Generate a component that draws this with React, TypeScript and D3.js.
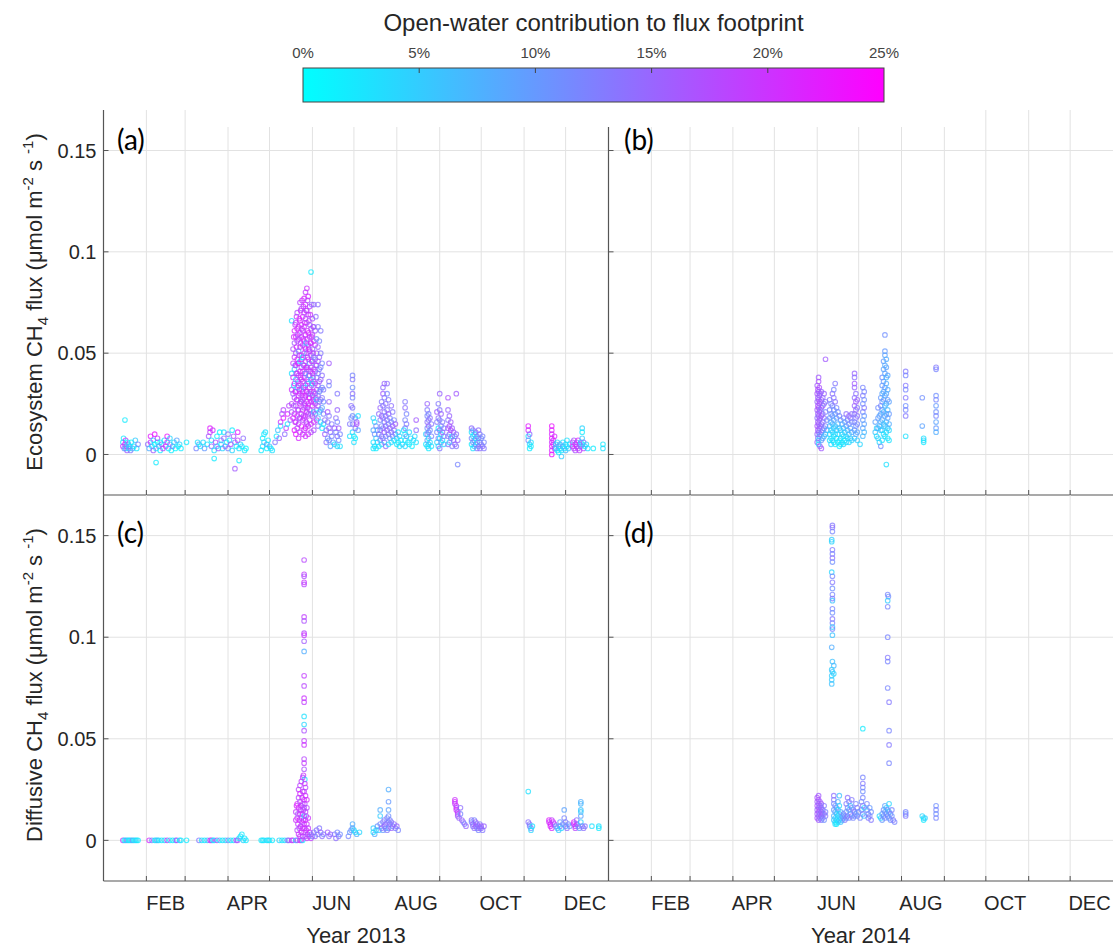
import React from 'react';
import * as d3 from 'd3';

// [day of year (0 = 1 Jan), CH4 flux, open-water share of footprint in %]
type Pt = [number, number, number];

const monthNames = ['FEB', 'APR', 'JUN', 'AUG', 'OCT', 'DEC'];
const monthIndex = [1, 3, 5, 7, 9, 11];
const yTicks = [0, 0.05, 0.1, 0.15];
const yTickLabels = ['0', '0.05', '0.1', '0.15'];
const barTicks = [0, 5, 10, 15, 20, 25];
const years = [2013, 2014];

const eco2013: Pt[] = [
  [14,0.006,3],[14,0.004,20],[14.5,0.008,2],[15,0.003,12],[15.5,0.017,2],[15.5,0.005,22],[16,0.007,21],[16,0.003,4],
  [16.5,0.004,14],[17,0.002,16],[17.5,0.006,2],[18,0.005,10],[18.5,0.003,3],[19,0.004,6],[19.5,0.002,13],[20,0.006,1],
  [21,0.003,8],[22,0.004,3],[23,0.007,5],[24,0.003,2],[25,0.005,12],
  [32,0.005,14],[33,0.003,8],[34,0.009,22],[34,0.006,20],[35,0.004,2],[36,0.007,3],[36,0.002,16],[37,0.010,23],[37,0.005,1],
  [38,0.003,4],[38,-0.004,2],[39,0.006,2],[39,0.008,19],[40,0.004,10],[41,0.002,2],[41,0.006,1],[42,0.005,12],[43,0.003,18],
  [44,0.007,3],[45,0.004,20],[46,0.009,23],[46,0.006,21],[47,0.003,2],[48,0.008,4],[48,0.005,6],[49,0.002,2],[50,0.004,15],
  [51,0.006,3],[52,0.003,1],[53,0.007,9],[54,0.004,2],[55,0.005,4],[56,0.003,2],[60,0.006,2],
  [67,0.003,12],[68,0.006,3],[69,0.005,8],[70,0.004,2],[72,0.006,4],[73,0.003,10],[75,0.005,3],[76,0.009,16],[77,0.013,22],
  [77,0.011,19],[78,0.007,2],[78,0.004,14],[79,0.012,20],[80,0.002,3],[80,-0.002,2],[81,0.006,18],[82,0.009,2],[82,0.004,4],
  [83,0.003,15],[84,0.011,1],[85,0.007,13],[85,0.005,2],[86,0.003,4],[87,0.011,3],[87,0.008,14],[88,0.004,16],[89,0.006,2],
  [90,0.010,13],[90,0.003,12],[91,0.007,2],[92,0.005,18],[93,0.012,2],[93,0.002,4],[94,0.009,16],[95,-0.007,16],[95,0.006,12],
  [96,0.004,2],[97,0.011,22],[97,0.007,19],[98,-0.003,2],[98,0.003,3],[99,0.005,5],[100,0.004,2],[101,0.008,14],[102,0.002,3],[103,0.003,1],
  [114,0.002,2],[115,0.004,3],[115,0.008,2],[116,0.010,2],[116,0.006,4],[117,0.011,3],[118,0.005,10],[118,0.003,2],[119,0.007,2],
  [120,0.004,6],[121,0.003,2],[122,0.002,3],
  [124,0.006,13],[125,0.009,2],[126,0.012,6],[127,0.008,16],[128,0.014,3],[128,0.016,20],[129,0.020,16],[130,0.018,22],
  [130,0.022,18],[131,0.010,14],[132,0.013,19],[133,0.020,21],[133,0.015,2],[134,0.024,18],[135,0.017,15],
  [136,0.025,18],[136,0.032,20],[136,0.040,3],[136,0.021,16],[136,0.066,3],
  [137,0.045,19],[137,0.052,17],[137,0.038,21],[137,0.030,15],[137,0.018,22],[137.5,0.058,20],[137.5,0.034,4],[137.5,0.024,18],
  [138,0.061,21],[138,0.055,16],[138,0.048,19],[138,0.042,6],[138,0.035,22],[138,0.028,17],[138,0.020,20],[138,0.012,23],
  [138.5,0.064,18],[138.5,0.044,12],[138.5,0.031,20],[138.5,0.016,21],
  [139,0.065,20],[139,0.058,22],[139,0.050,17],[139,0.044,19],[139,0.037,3],[139,0.031,21],[139,0.024,16],[139,0.016,19],[139,0.010,22],
  [139.5,0.068,19],[139.5,0.053,21],[139.5,0.040,15],[139.5,0.027,20],
  [140,0.070,17],[140,0.062,21],[140,0.056,18],[140,0.047,22],[140,0.040,20],[140,0.033,5],[140,0.027,19],[140,0.019,21],[140,0.013,17],
  [140.5,0.059,16],[140.5,0.045,21],[140.5,0.036,18],[140.5,0.022,22],
  [141,0.063,20],[141,0.057,19],[141,0.051,11],[141,0.045,21],[141,0.039,18],[141,0.034,22],[141,0.029,20],[141,0.022,16],[141,0.015,19],[141,0.008,21],
  [141.5,0.067,22],[141.5,0.049,17],[141.5,0.032,20],[141.5,0.018,15],
  [142,0.075,18],[142,0.066,20],[142,0.060,22],[142,0.053,19],[142,0.046,4],[142,0.041,21],[142,0.035,17],[142,0.030,20],[142,0.025,22],[142,0.018,18],[142,0.011,20],
  [142.5,0.071,21],[142.5,0.055,18],[142.5,0.038,20],[142.5,0.026,12],
  [143,0.072,17],[143,0.064,21],[143,0.058,19],[143,0.049,22],[143,0.043,18],[143,0.037,20],[143,0.032,16],[143,0.026,21],[143,0.020,19],[143,0.014,22],
  [143.5,0.076,20],[143.5,0.062,19],[143.5,0.047,21],[143.5,0.029,17],
  [144,0.068,22],[144,0.061,18],[144,0.054,20],[144,0.048,3],[144,0.041,21],[144,0.036,19],[144,0.031,22],[144,0.027,17],[144,0.022,20],[144,0.017,18],[144,0.010,21],
  [144.5,0.073,19],[144.5,0.057,20],[144.5,0.044,10],[144.5,0.033,21],[144.5,0.019,18],
  [145,0.077,21],[145,0.070,18],[145,0.063,20],[145,0.056,22],[145,0.050,17],[145,0.044,19],[145,0.038,21],[145,0.033,6],[145,0.028,20],[145,0.023,18],[145,0.018,22],[145,0.012,19],
  [145.5,0.065,20],[145.5,0.053,16],[145.5,0.040,21],[145.5,0.025,19],
  [146,0.080,19],[146,0.074,21],[146,0.067,17],[146,0.059,20],[146,0.052,22],[146,0.046,18],[146,0.040,11],[146,0.034,20],[146,0.029,21],[146,0.024,17],[146,0.019,19],[146,0.013,22],[146,0.009,20],
  [146.5,0.071,20],[146.5,0.055,4],[146.5,0.043,19],[146.5,0.031,21],[146.5,0.016,18],
  [147,0.082,20],[147,0.071,18],[147,0.065,21],[147,0.057,19],[147,0.050,12],[147,0.043,22],[147,0.037,17],[147,0.031,20],[147,0.026,18],[147,0.021,21],[147,0.015,19],
  [147.5,0.076,17],[147.5,0.061,20],[147.5,0.048,21],[147.5,0.035,5],[147.5,0.023,20],
  [148,0.078,21],[148,0.069,19],[148,0.060,22],[148,0.054,18],[148,0.047,20],[148,0.042,16],[148,0.036,21],[148,0.030,19],[148,0.025,22],[148,0.020,18],[148,0.014,20],[148,0.010,21],
  [148.5,0.066,18],[148.5,0.052,21],[148.5,0.039,3],[148.5,0.028,19],
  [149,0.073,19],[149,0.064,16],[149,0.058,20],[149,0.051,21],[149,0.045,10],[149,0.039,18],[149,0.033,20],[149,0.028,22],[149,0.022,17],[149,0.017,19],
  [149.5,0.069,20],[149.5,0.055,21],[149.5,0.041,18],[149.5,0.030,12],
  [150,0.090,2],[150,0.062,19],[150,0.055,21],[150,0.049,17],[150,0.043,20],[150,0.037,4],[150,0.031,19],[150,0.026,21],[150,0.020,16],[150,0.015,20],[150,0.011,18],
  [150.5,0.074,14],[150.5,0.058,18],[150.5,0.046,20],[150.5,0.034,15],
  [151,0.067,17],[151,0.059,20],[151,0.052,14],[151,0.046,19],[151,0.040,21],[151,0.035,3],[151,0.029,18],[151,0.024,20],[151,0.019,17],
  [151.5,0.063,13],[151.5,0.050,19],[151.5,0.038,16],[151.5,0.027,20],
  [152,0.074,15],[152,0.063,18],[152,0.056,20],[152,0.048,12],[152,0.042,19],[152,0.036,17],[152,0.031,21],[152,0.026,18],[152,0.021,6],[152,0.016,20],[152,0.012,17],
  [153,0.061,16],[153,0.054,19],[153,0.047,13],[153,0.041,18],[153,0.035,20],[153,0.030,15],[153,0.025,19],[153,0.020,17],
  [153.5,0.068,14],[153.5,0.044,11],[153.5,0.028,18],
  [154,0.057,12],[154,0.050,17],[154,0.044,19],[154,0.038,14],[154,0.032,18],[154,0.027,4],[154,0.022,16],[154,0.017,19],
  [155,0.074,14],[155,0.063,13],[155,0.053,15],[155,0.046,18],[155,0.040,12],[155,0.034,16],[155,0.029,14],[155,0.024,17],[155,0.018,8],[155,0.014,15],
  [156,0.056,12],[156,0.048,15],[156,0.042,13],[156,0.036,16],[156,0.031,11],[156,0.026,14],[156,0.021,3],
  [157,0.061,13],[157,0.050,13],[157,0.043,12],[157,0.037,15],[157,0.032,11],[157,0.027,14],[157,0.022,10],[157,0.016,4],
  [158,0.045,12],[158,0.039,14],[158,0.033,11],[158,0.028,13],[158,0.023,9],[158,0.013,2],
  [159,0.032,13],[159,0.026,11],[159,0.020,12],[159,0.015,3],
  [160,0.017,14],[160,0.010,16],[161,0.012,12],[161,0.006,14],[162,0.021,17],[162,0.016,13],[162,0.008,11],[163,0.045,16],
  [163,0.036,14],[163,0.034,12],[163,0.026,15],[163,0.019,13],[163,0.013,16],[163,0.007,11],[164,0.011,14],[164,0.004,9],
  [165,0.015,13],[165,0.009,12],[166,0.006,10],[167,0.013,15],[167,0.005,3],[168,0.018,14],[168,0.011,12],[169,0.030,13],
  [169,0.022,15],[169,0.016,12],[169,0.009,14],[169,0.004,4],[170,0.013,16],[170,0.007,11],[171,0.010,12],[171,0.004,3],
  [178,0.015,13],[178,0.009,3],[179,0.024,14],[179,0.018,12],[180,0.039,12],[180,0.037,13],[180,0.033,11],[180,0.030,14],
  [180,0.028,12],[180,0.023,13],[180,0.019,11],[180,0.015,12],[180,0.011,4],[181,0.009,2],[181,0.006,3],[182,0.018,11],
  [182,0.013,14],[182,0.008,2],[183,0.016,16],[183,0.015,17],[184,0.019,3],[184,0.012,9],
  [195,0.018,5],[195,0.012,8],[195,0.006,3],[195,0.003,2],[196,0.016,3],[196,0.010,11],[196,0.004,4],[197,0.014,12],[197,0.008,5],
  [197,0.003,2],[198,0.012,8],[198,0.006,3],[199,0.020,14],[199,0.010,12],[199,0.004,3],[200,0.023,15],[200,0.017,12],[200,0.012,14],
  [200,0.007,11],[201,0.026,13],[201,0.019,15],[201,0.014,12],[201,0.009,13],[201,0.005,4],[202,0.033,14],[202,0.030,16],[202,0.024,13],
  [202,0.018,15],[202,0.013,12],[202,0.008,14],[203,0.035,15],[203,0.028,13],[203,0.021,14],[203,0.016,12],[203,0.011,16],[203,0.006,13],
  [204,0.025,14],[204,0.019,12],[204,0.014,15],[204,0.009,11],[204,0.004,14],[205,0.035,14],[205,0.030,12],[205,0.022,13],[205,0.017,15],
  [205,0.012,14],[206,0.027,13],[206,0.020,16],[206,0.015,12],[206,0.010,14],[206,0.005,3],[207,0.018,12],[207,0.013,14],[207,0.008,11],
  [208,0.024,14],[208,0.016,12],[208,0.011,13],[208,0.006,4],[209,0.021,13],[209,0.014,15],[209,0.009,12],[210,0.017,12],[210,0.012,14],
  [210,0.007,3],[211,0.015,16],[211,0.010,13],[212,0.008,4],[212,0.005,2],[213,0.011,3],[213,0.006,2],[214,0.009,5],[214,0.004,3],
  [215,0.007,2],[216,0.005,4],[217,0.012,3],
  [218,0.026,13],[218,0.023,14],[218,0.017,12],[218,0.013,11],[218,0.010,3],[218,0.007,2],[218,0.004,4],[219,0.020,12],[219,0.015,13],
  [219,0.009,10],[220,0.006,3],[221,0.011,4],[221,0.005,2],[222,0.008,3],[223,0.004,2],[224,0.007,3],[225,0.009,4],[226,0.017,16],
  [226,0.012,14],[226,0.006,3],
  [233,0.010,4],[233,0.005,2],[234,0.025,15],[234,0.022,13],[234,0.019,12],[234,0.016,14],[234,0.013,11],[234,0.010,13],[234,0.007,10],
  [234,0.004,4],[235,0.020,12],[235,0.017,13],[235,0.014,15],[235,0.011,12],[235,0.008,3],[235,0.005,5],[235,0.003,2],[236,0.018,14],
  [236,0.012,11],[236,0.006,4],[237,0.015,13],[237,0.009,12],[237,0.004,3],
  [241,0.021,16],[241,0.016,13],[241,0.011,12],[241,0.006,4],[242,0.025,13],[242,0.018,14],[242,0.013,3],[242,0.008,12],[242,0.004,5],
  [243,0.030,15],[243,0.022,13],[243,0.017,12],[243,0.012,14],[243,0.008,4],[243,0.003,13],[244,0.020,15],[244,0.014,12],[244,0.010,3],
  [244,0.006,11],[245,0.016,13],[245,0.011,15],[245,0.007,2],[246,0.013,12],[246,0.009,14],[246,0.005,4],
  [249,0.028,17],[249,0.022,15],[249,0.017,13],[249,0.013,16],[249,0.009,12],[249,0.005,14],[250,0.019,15],[250,0.014,17],[250,0.010,13],
  [250,0.006,4],[251,0.016,16],[251,0.012,18],[251,0.008,14],[252,0.013,15],[252,0.009,3],[252,0.004,13],[253,0.011,16],[253,0.007,14],
  [254,0.009,12],[254,0.005,15],[255,0.030,16],[255,0.010,14],[255,0.004,13],[256,0.007,15],[256,-0.005,12],
  [266,0.013,14],[266,0.011,3],[266,0.008,12],[266,0.005,2],[267,0.012,13],[267,0.009,4],[267,0.006,11],[267,0.003,3],[268,0.010,2],
  [268,0.007,12],[268,0.004,4],[269,0.011,13],[269,0.008,3],[269,0.005,12],[270,0.009,11],[270,0.006,3],[270,0.003,13],[271,0.012,14],
  [271,0.008,12],[271,0.004,11],[272,0.010,13],[272,0.006,12],[272,0.003,14],[273,0.008,11],[273,0.005,13],[274,0.009,12],[274,0.004,14],
  [275,0.006,12],[275,0.003,13],
  [307,0.014,22],[307,0.012,21],[307,0.009,3],[307,0.007,12],[308,0.005,4],[308,0.003,2],[308,0.010,14],[309,0.006,3],[309,0.004,2],
  [324,0.014,23],[324,0.012,22],[324,0.010,21],[324,0.008,23],[324,0.006,20],[324,0.004,22],[324,0.002,21],[324,0.000,23],[325,0.007,20],
  [325,0.005,22],[326,0.009,21],[326,0.003,19],
  [327,0.005,3],[327,0.003,5],[328,0.006,4],[328,0.002,2],[329,0.004,8],[329,0.001,3],[330,0.005,10],[330,0.003,4],[331,0.002,2],
  [331,-0.001,5],[332,0.006,3],[332,0.004,9],[333,0.003,2],[334,0.005,4],[334,0.002,7],[335,0.007,3],[335,0.004,2],[336,0.003,5],[337,0.005,3],
  [339,0.006,18],[339,0.004,20],[340,0.007,16],[340,0.003,19],[341,0.005,21],[341,0.002,17],[342,0.006,15],[342,0.004,20],[343,0.003,18],
  [343,0.007,22],[344,0.005,16],[344,0.002,19],[345,0.006,3],[345,0.004,12],[346,0.013,4],[346,0.011,2],[346,0.008,5],[346,0.005,3],
  [347,0.006,15],[347,0.003,18],[348,0.004,2],[349,0.005,4],[350,0.003,3],[354,0.003,2],[361,0.005,2],[361,0.003,3],
];

const eco2014: Pt[] = [
  [151,0.034,16],[151,0.030,17],[151,0.026,15],[151,0.022,16],[151,0.018,14],[151,0.014,17],[151,0.010,15],[151,0.006,16],
  [151.5,0.032,18],[151.5,0.028,16],[151.5,0.024,17],[151.5,0.020,15],[151.5,0.016,16],[151.5,0.012,17],[151.5,0.008,14],
  [152,0.038,16],[152,0.036,17],[152,0.031,15],[152,0.027,16],[152,0.023,17],[152,0.019,15],[152,0.015,16],[152,0.011,14],[152,0.007,5],[152,0.005,4],
  [152.5,0.033,17],[152.5,0.029,15],[152.5,0.025,16],[152.5,0.021,17],[152.5,0.017,16],[152.5,0.013,15],[152.5,0.009,8],
  [153,0.030,16],[153,0.026,17],[153,0.022,14],[153,0.018,16],[153,0.014,15],[153,0.010,13],[153,0.004,15],
  [154,0.031,15],[154,0.027,16],[154,0.023,14],[154,0.019,16],[154,0.015,15],[154,0.011,12],[154,0.007,10],[154,0.003,16],
  [155,0.028,14],[155,0.024,16],[155,0.020,15],[155,0.016,13],[155,0.012,14],[155,0.008,9],
  [156,0.030,15],[156,0.025,13],[156,0.018,14],[156,0.013,12],[156,0.009,7],
  [157,0.047,16],[157,0.026,14],[157,0.021,12],[157,0.014,13],[157,0.010,6],[158,0.017,12],[158,0.012,8],
  [160,0.027,13],[160,0.022,12],[160,0.018,10],[160,0.014,7],[160,0.010,4],[160,0.007,3],[161,0.025,12],[161,0.020,11],[161,0.016,8],
  [161,0.012,5],[161,0.008,3],[161,0.005,4],[162,0.030,14],[162,0.024,12],[162,0.019,10],[162,0.015,6],[162,0.011,4],[162,0.007,2],
  [163,0.032,12],[163,0.028,13],[163,0.022,11],[163,0.017,9],[163,0.013,5],[163,0.009,3],[163,0.006,4],[164,0.035,13],[164,0.026,14],
  [164,0.020,10],[164,0.014,6],[164,0.010,3],[164,0.005,2],[165,0.023,12],[165,0.018,9],[165,0.012,5],[165,0.008,3],[166,0.021,11],
  [166,0.015,7],[166,0.010,4],[166,0.006,2],[167,0.019,12],[167,0.013,6],[167,0.007,3],[167,0.004,2],
  [168,0.017,10],[168,0.012,5],[168,0.008,3],[168,0.005,2],[169,0.015,8],[169,0.010,4],[169,0.006,2],[170,0.018,12],[170,0.013,6],
  [170,0.009,3],[170,0.005,4],[171,0.016,9],[171,0.011,5],[171,0.007,2],[172,0.020,14],[172,0.014,10],[172,0.009,4],[172,0.006,3],
  [173,0.017,12],[173,0.012,7],[173,0.008,3],[174,0.019,15],[174,0.015,11],[174,0.010,6],[174,0.006,4],[175,0.018,13],[175,0.013,9],
  [175,0.008,5],[176,0.020,14],[176,0.016,12],[176,0.011,8],[176,0.007,4],
  [178,0.040,15],[178,0.038,14],[178,0.035,16],[178,0.033,15],[178,0.028,14],[178,0.024,15],[178,0.020,13],[178,0.016,12],[178,0.012,10],
  [178,0.008,6],[179,0.030,14],[179,0.026,16],[179,0.022,15],[179,0.018,13],[179,0.014,11],[179,0.010,8],[180,0.027,15],[180,0.023,13],
  [180,0.019,14],[180,0.015,12],[180,0.011,9],[180,0.007,5],[182,0.005,4],[184,0.033,12],[184,0.029,13],[184,0.025,11],[184,0.021,12],
  [184,0.017,10],[184,0.013,9],[184,0.009,7],[185,0.031,12],[185,0.027,11],[185,0.023,13],[185,0.019,10],[185,0.015,9],[185,0.011,7],
  [193,0.016,9],[193,0.011,6],[194,0.013,4],[194,0.009,3],[195,0.023,11],[195,0.018,10],[195,0.013,8],[195,0.008,5],[196,0.019,9],
  [196,0.014,7],[196,0.006,4],[197,0.028,10],[197,0.024,12],[197,0.020,9],[197,0.016,8],[197,0.012,6],[197,0.004,11],[198,0.038,11],
  [198,0.034,10],[198,0.030,9],[198,0.026,11],[198,0.022,10],[198,0.017,8],[198,0.012,5],[198,0.007,3],[199,0.046,10],[199,0.042,9],
  [199,0.036,10],[199,0.031,8],[199,0.027,9],[199,0.021,7],[199,0.015,6],[199,0.010,3],[200,0.059,11],[200,0.051,10],[200,0.049,9],
  [200,0.044,8],[200,0.040,9],[200,0.033,10],[200,0.029,8],[200,0.024,7],[200,0.019,9],[200,0.014,6],[200,0.009,4],[201,0.047,8],
  [201,0.043,9],[201,0.038,7],[201,0.035,8],[201,0.030,9],[201,0.025,7],[201,0.020,8],[201,0.016,6],[201,0.011,3],[201,-0.005,3],
  [202,0.039,9],[202,0.032,8],[202,0.027,10],[202,0.022,7],[202,0.018,9],[202,0.013,5],[202,0.008,2],[203,0.026,9],[203,0.020,10],
  [203,0.015,8],[203,0.012,4],[203,0.007,3],
  [215,0.041,13],[215,0.039,12],[215,0.034,13],[215,0.032,12],[215,0.028,13],[215,0.024,11],[215,0.022,12],[215,0.019,13],[215,0.009,3],
  [227,0.028,11],[227,0.014,9],[228,0.008,3],[228,0.007,4],[228,0.006,2],
  [237,0.043,13],[237,0.042,12],[237,0.029,11],[237,0.027,12],[237,0.024,10],[237,0.021,11],[237,0.019,12],[237,0.016,9],[237,0.013,10],[237,0.011,8],
];

const diff2013: Pt[] = [
  [14,0,21],[15,0,3],[16,0,2],[17,0,10],[18,0,2],[19,0,3],[20,0,2],[21,0,12],[22,0,2],[23,0,4],[24,0,3],[25,0,2],
  [33,0,21],[35,0,12],[37,0,3],[38,0,2],[39,0,8],[40,0,3],[42,0,2],[44,0,4],[46,0,20],[48,0,3],[50,0,2],[52,0,5],[53,0,21],
  [55,0,2],[56,0,3],[60,0,2],[69,0,13],[71,0,3],[73,0,2],[75,0,5],[77,0,20],[78,0,22],[79,0,3],[80,0,2],[82,0,18],[84,0,3],
  [86,0,2],[88,0,4],[90,0,12],[92,0,2],[94,0,3],[96,0,20],[97,0,15],[98,0.001,2],[99,0.002,3],[100,0.003,2],[101,0,4],[102,0.001,3],
  [103,0,2],[114,0,2],[115,0,3],[116,0,2],[118,0,4],[119,0,2],[120,0,3],[122,0,2],[127,0,4],[129,0,2],[131,0,3],[133,0,12],
  [134,0,15],[136,0,20],[137,0,18],[139,0,3],[140,0,16],[142,0,22],[143,0,20],[144,0,2],
  [145,0.138,18],[145,0.131,19],[145,0.130,17],[145,0.127,20],[145,0.126,18],[145,0.110,19],[145,0.108,17],[145,0.102,18],
  [145,0.101,20],[145,0.098,16],[145,0.093,8],[145,0.081,19],[145,0.076,18],[145,0.070,20],[145,0.068,19],[145,0.061,3],
  [145,0.057,4],[145,0.054,17],[145,0.049,19],[145,0.047,20],[145,0.040,18],[145,0.038,19],[145,0.035,17],[144.5,0.032,20],
  [145.5,0.030,3],[145.5,0.028,21],
  [139,0.010,20],[139,0.014,19],[139.5,0.017,21],[140,0.005,18],[140,0.011,20],[140,0.018,22],[140.5,0.008,19],[140.5,0.013,16],
  [141,0.003,20],[141,0.016,21],[141,0.021,18],[141,0.025,19],[141.5,0.006,17],[141.5,0.010,22],[142,0.002,19],[142,0.013,20],
  [142,0.019,17],[142,0.023,21],[142,0.027,18],[142.5,0.007,20],[142.5,0.015,19],[143,0.004,21],[143,0.011,18],[143,0.017,20],
  [143,0.029,19],[143.5,0.009,17],[143.5,0.021,20],[144,0.002,18],[144,0.006,20],[144,0.013,22],[144,0.018,19],[144,0.024,20],
  [144,0.031,18],[144.5,0.010,21],[144.5,0.015,17],[145,0.004,19],[145,0.008,20],[145,0.012,3],[145,0.016,18],[145,0.020,21],
  [145,0.024,19],[145.5,0.006,20],[145.5,0.018,17],[146,0.002,18],[146,0.010,21],[146,0.014,19],[146,0.022,20],[146,0.026,18],
  [146.5,0.005,20],[146.5,0.012,17],[147,0.001,19],[147,0.008,20],[147,0.016,18],[147,0.020,21],[147.5,0.003,17],[148,0.006,19],
  [148,0.011,20],[148.5,0.002,18],[149,0.004,21],[150,0.001,19],
  [150,0.003,14],[151,0.002,12],[152,0.004,13],[153,0.002,15],[154,0.005,14],[155,0.003,12],[156,0.006,13],[157,0.004,15],
  [158,0.002,14],[159,0.003,12],[162,0.004,16],[163,0.002,14],[164,0.003,15],[167,0.003,13],[168,0.001,14],[169,0.004,12],
  [170,0.002,13],[171,0.003,11],
  [177,0.002,12],[178,0.004,10],[179,0.005,11],[180,0.006,9],[180,0.008,8],[181,0.005,4],[182,0.004,3],[183,0.003,8],[185,0.004,4],
  [195,0.004,3],[195,0.006,5],[196,0.003,8],[197,0.005,4],[198,0.007,10],[199,0.005,6],[200,0.015,8],[200,0.012,5],[200,0.008,12],
  [201,0.006,14],[202,0.009,12],[202,0.005,10],[203,0.007,15],[203,0.010,13],[204,0.006,11],[204,0.008,14],[205,0.011,12],
  [205,0.005,13],[206,0.025,8],[206,0.019,10],[206,0.015,9],[206,0.012,11],[206,0.009,13],[206,0.006,10],[207,0.008,14],
  [207,0.010,12],[208,0.006,15],[208,0.009,13],[209,0.007,12],[210,0.008,14],[211,0.006,13],[212,0.007,15],[213,0.005,12],
  [254,0.020,20],[254,0.019,21],[254,0.018,19],[255,0.017,20],[255,0.016,18],[255,0.015,21],[256,0.014,17],[256,0.013,19],
  [256,0.012,16],[257,0.011,15],[258,0.016,14],[258,0.013,12],[259,0.010,15],[260,0.009,14],[261,0.008,12],[262,0.007,15],
  [266,0.010,14],[266,0.009,12],[267,0.008,15],[267,0.007,13],[268,0.006,14],[268,0.010,12],[269,0.009,15],[269,0.007,16],
  [270,0.006,13],[270,0.008,15],[271,0.007,14],[271,0.005,12],[272,0.006,15],[272,0.008,13],[273,0.007,16],[273,0.006,14],
  [274,0.005,13],[275,0.007,15],
  [307,0.024,3],[307,0.009,14],[308,0.008,13],[308,0.007,12],[309,0.006,11],[309,0.005,4],[310,0.007,3],
  [322,0.010,22],[322,0.009,21],[323,0.008,20],[323,0.007,22],[324,0.010,19],[324,0.006,21],[325,0.009,20],[326,0.008,18],
  [327,0.007,10],[328,0.006,8],[329,0.005,5],[330,0.007,12],[330,0.009,10],[331,0.006,4],[332,0.008,11],[333,0.015,9],
  [333,0.011,12],[334,0.009,13],[334,0.007,10],[335,0.006,14],[336,0.008,12],[337,0.007,10],
  [340,0.009,22],[340,0.008,20],[341,0.007,21],[341,0.006,18],[342,0.008,19],[342,0.010,14],[343,0.007,12],[344,0.006,10],
  [345,0.019,8],[345,0.018,7],[345,0.015,6],[345,0.014,5],[345,0.012,9],[345,0.009,4],[346,0.007,12],[347,0.006,14],[348,0.007,13],
  [353,0.007,3],[358,0.006,2],[358,0.007,3],
];

const diff2014: Pt[] = [
  [162,0.155,13],[162,0.154,14],[162,0.152,12],[161.5,0.148,5],[161.5,0.147,4],[162,0.143,13],[162,0.141,12],[162,0.139,14],
  [162,0.137,11],[161.5,0.132,4],[162,0.130,12],[162,0.127,13],[162,0.124,11],[162,0.121,12],[162,0.119,13],[162,0.118,6],
  [162,0.114,12],[162,0.112,11],[162,0.109,13],[162,0.107,12],[162,0.105,5],[162,0.104,12],[162,0.101,6],[161.5,0.095,8],
  [162,0.088,6],[163,0.086,7],[161.5,0.084,5],[162,0.083,6],[161.5,0.081,5],[163,0.082,4],[161.5,0.079,5],[161.5,0.077,6],
  [184,0.055,2],
  [202,0.121,12],[202.5,0.120,11],[202,0.118,5],[202,0.115,12],[202,0.100,12],[202,0.090,13],[202,0.088,12],[202,0.075,12],
  [203,0.068,13],[203,0.054,12],[203,0.047,13],[203,0.038,12],
  [151,0.021,17],[151,0.019,16],[151,0.017,17],[151,0.015,15],[151,0.013,16],[151,0.011,17],[152,0.022,16],[152,0.020,17],
  [152,0.018,15],[152,0.016,16],[152,0.014,17],[152,0.012,15],[152,0.010,16],[153,0.019,16],[153,0.017,15],[153,0.015,16],
  [153,0.013,14],[153,0.011,15],[154,0.018,16],[154,0.016,14],[154,0.014,15],[154,0.012,16],[154,0.010,13],[155,0.015,14],
  [155,0.013,15],[155,0.011,12],[156,0.017,13],[156,0.013,14],[156,0.010,11],[157,0.014,12],[157,0.012,13],
  [163,0.022,14],[163,0.020,13],[163,0.018,12],[163,0.015,10],[163,0.012,8],[163,0.010,6],[164,0.017,11],[164,0.014,9],
  [164,0.011,5],[164,0.009,4],[164,0.008,3],[165,0.016,10],[165,0.013,6],[165,0.010,4],[165,0.008,2],[166,0.019,8],
  [166,0.015,5],[166,0.012,3],[166,0.009,2],[167,0.022,6],[167,0.017,4],[167,0.013,3],[167,0.010,5],[168,0.014,8],
  [168,0.011,4],[168,0.009,6],[169,0.012,10],[169,0.010,7],[170,0.013,12],[170,0.011,9],[171,0.012,11],[171,0.010,13],
  [172,0.018,13],[172,0.014,11],[172,0.011,12],[173,0.021,14],[173,0.016,12],[173,0.012,13],[174,0.019,12],[174,0.015,9],
  [174,0.011,11],[175,0.017,6],[175,0.013,10],[176,0.020,13],[176,0.016,12],[176,0.012,14],[177,0.015,11],[177,0.011,12],
  [178,0.014,13],[178,0.012,10],[179,0.018,12],[179,0.013,11],[180,0.016,13],[180,0.012,12],[181,0.014,10],[182,0.011,12],
  [183,0.019,11],[183,0.015,12],[184,0.031,12],[184,0.028,13],[184,0.026,12],[184,0.024,11],[184,0.021,12],[184,0.017,13],
  [184,0.013,12],[185,0.016,4],[185,0.012,6],
  [187,0.018,12],[187,0.015,11],[188,0.013,12],[188,0.011,13],[189,0.016,10],[189,0.012,12],[190,0.014,11],[190,0.010,13],
  [196,0.012,4],[197,0.011,3],[198,0.013,9],[198,0.010,10],[199,0.015,11],[199,0.012,12],[200,0.017,9],[200,0.014,10],
  [200,0.011,12],[201,0.016,6],[201,0.013,11],[202,0.015,10],[202,0.012,12],[203,0.018,4],[203,0.014,8],[203,0.011,10],
  [204,0.013,12],[204,0.010,11],[205,0.015,12],[205,0.012,10],[206,0.010,13],[207,0.009,12],
  [215,0.014,12],[215,0.013,11],[215,0.012,13],[227,0.012,4],[228,0.011,3],[228,0.010,2],[229,0.011,5],
  [237,0.017,11],[237,0.015,12],[237,0.013,11],[237,0.011,12],
];

const W = 1119;
const H = 949;
const FONT = '"Liberation Sans", Arial, Helvetica, sans-serif';
const AXIS = '#555';
const GRID = '#e2e2e2';
const TXT = '#262626';

// panel frame in pixels
const colX: [number, number][] = [[103.5, 608.5], [608.5, 1113]];
const rowY: [number, number][] = [[110, 495], [495, 881]];

// MATLAB "cool" colormap, 0-25 %
const cool = d3.scaleLinear<string>().domain([0, 25]).range(['#00ffff', '#ff00ff']).clamp(true);

type PanelProps = {
  data: Pt[];
  year: number;
  col: number;
  row: number;
  tag: string;
  tagX: number;
  tagY: number;
};

const Panel = ({ data, year, col, row, tag, tagX, tagY }: PanelProps) => {
  const [x0, x1] = colX[col];
  const [y0, y1] = rowY[row];
  const start = new Date(year, 0, 1);
  const x = d3.scaleTime().domain([start, new Date(year + 1, 0, 1)]).range([x0, x1]);
  const y = d3.scaleLinear().domain([-0.02, 0.17]).range([y1, y0]);
  const monthStarts = d3.timeMonth.range(new Date(year, 1, 1), new Date(year, 11, 2));
  const pos = (d: number) => x(new Date(start.getTime() + d * 86400000));

  return (
    <g>
      {monthStarts.map((m, i) => (
        <line key={'gx' + i} x1={x(m)} x2={x(m)} y1={y0} y2={y1} stroke={GRID} strokeWidth={1} />
      ))}
      {yTicks.map((t, i) => (
        <line key={'gy' + i} x1={x0} x2={x1} y1={y(t)} y2={y(t)} stroke={GRID} strokeWidth={1} />
      ))}
      {data.map((d, i) => (
        <circle key={i} cx={pos(d[0])} cy={y(d[1])} r={2.3} fill="none"
          stroke={cool(d[2])} strokeWidth={1.1} strokeOpacity={0.75} />
      ))}
      <line x1={x0} x2={x0} y1={y0} y2={y1} stroke={AXIS} strokeWidth={1.2} />
      <line x1={x0} x2={x1} y1={y1} y2={y1} stroke={AXIS} strokeWidth={1.2} />
      {monthStarts.map((m, i) => (
        <line key={'tx' + i} x1={x(m)} x2={x(m)} y1={y1} y2={y1 - 5} stroke={AXIS} strokeWidth={1} />
      ))}
      {yTicks.map((t, i) => (
        <line key={'ty' + i} x1={x0} x2={x0 + 5} y1={y(t)} y2={y(t)} stroke={AXIS} strokeWidth={1} />
      ))}
      {col === 0 && yTicks.map((t, i) => (
        <text key={'ly' + i} x={x0 - 7} y={y(t)} dy="0.36em" textAnchor="end"
          fontFamily={FONT} fontSize={20} fill={TXT}>{yTickLabels[i]}</text>
      ))}
      {row === 1 && monthIndex.map((m, i) => (
        <text key={'lx' + i} x={x(new Date(year, m, 15))} y={910} textAnchor="middle"
          fontFamily={FONT} fontSize={20} fill={TXT}>{monthNames[i]}</text>
      ))}
      {row === 1 && (
        <text x={(x0 + x1) / 2} y={943} textAnchor="middle" fontFamily={FONT} fontSize={22} fill={TXT}>
          Year {year}
        </text>
      )}
      <text x={tagX} y={tagY} fontFamily="Lato, 'Open Sans', sans-serif" fontSize={28} fill="#000">{tag}</text>
    </g>
  );
};

const YTitle = ({ word, cy }: { word: string; cy: number }) => (
  <text transform={`translate(42,${cy}) rotate(-90)`} textAnchor="middle" fontFamily={FONT} fontSize={22} fill={TXT}>
    {word} CH<tspan fontSize={15} dy={6}>4</tspan>
    <tspan dy={-6}> flux (μmol m</tspan>
    <tspan fontSize={15} dy={-9}>-2</tspan>
    <tspan dy={9}> s </tspan>
    <tspan fontSize={15} dy={-9}>-1</tspan>
    <tspan dy={9}>)</tspan>
  </text>
);

const ColorBar = () => {
  const bx0 = 303;
  const bx1 = 884;
  const by0 = 68;
  const by1 = 102;
  const s = d3.scaleLinear().domain([0, 25]).range([bx0, bx1]);
  return (
    <g>
      <defs>
        <linearGradient id="coolGrad" x1="0%" x2="100%" y1="0%" y2="0%">
          <stop offset="0%" stopColor={cool(0)} />
          <stop offset="100%" stopColor={cool(25)} />
        </linearGradient>
      </defs>
      <rect x={205} y={0} width={777} height={127} fill="#fff" />
      <text x={(bx0 + bx1) / 2} y={31} textAnchor="middle" fontFamily={FONT} fontSize={24} fill={TXT}>
        Open-water contribution to flux footprint
      </text>
      <rect x={bx0} y={by0} width={bx1 - bx0} height={by1 - by0} fill="url(#coolGrad)" stroke="#444" strokeWidth={1} />
      {barTicks.map((t, i) => (
        <g key={i}>
          {i > 0 && i < barTicks.length - 1 && (
            <line x1={s(t)} x2={s(t)} y1={by0} y2={by0 + 5} stroke="#444" strokeWidth={1} />
          )}
          <text x={s(t)} y={58} textAnchor="middle" fontFamily={FONT} fontSize={15} fill="#444">{t}%</text>
        </g>
      ))}
    </g>
  );
};

export default function App() {
  return (
    <svg width={W} height={H} style={{ position: 'absolute', left: 0, top: 0, background: '#fff' }}>
      <rect width={W} height={H} fill="#fff" />
      <Panel data={eco2013} year={years[0]} col={0} row={0} tag="(a)" tagX={117} tagY={150} />
      <Panel data={eco2014} year={years[1]} col={1} row={0} tag="(b)" tagX={624} tagY={150} />
      <Panel data={diff2013} year={years[0]} col={0} row={1} tag="(c)" tagX={117} tagY={543} />
      <Panel data={diff2014} year={years[1]} col={1} row={1} tag="(d)" tagX={624} tagY={543} />
      <YTitle word="Ecosystem" cy={302} />
      <YTitle word="Diffusive" cy={685} />
      <ColorBar />
    </svg>
  );
}
